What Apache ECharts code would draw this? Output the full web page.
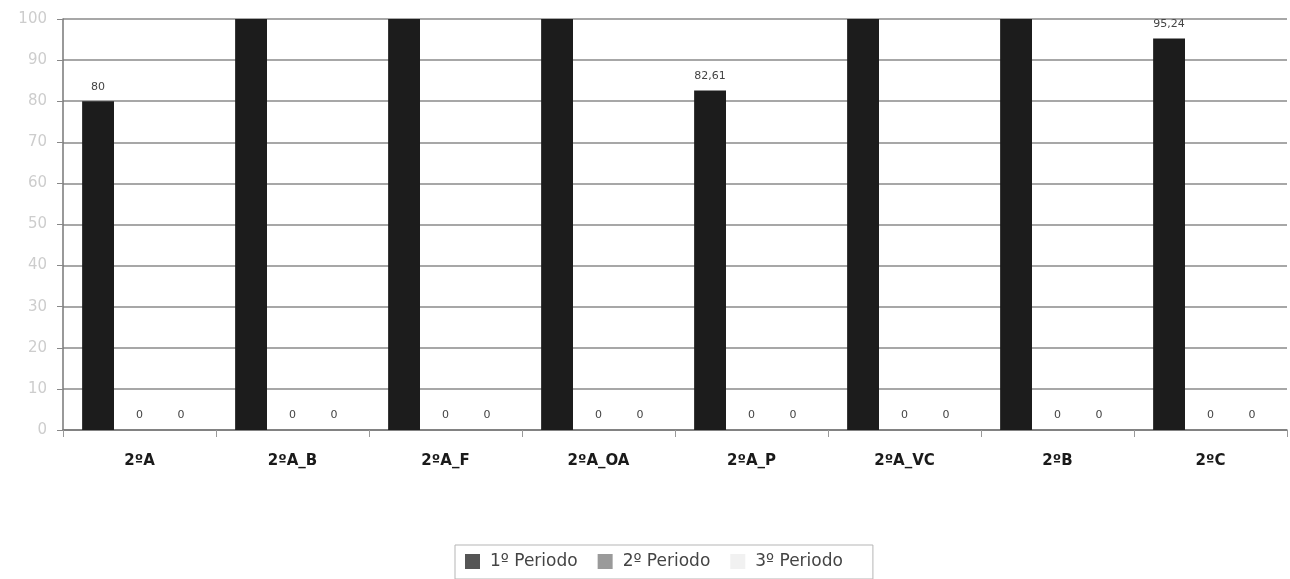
<!DOCTYPE html>
<html>
<head>
<meta charset="utf-8">
<script src="https://cdn.jsdelivr.net/npm/echarts@6/dist/echarts.min.js"></script>
<style>
  html, body { margin: 0; padding: 0; background: #fff; }
  #chart { width: 1290px; height: 579px; }
</style>
</head>
<body>
<div id="chart"></div>
<script>
// Turmas e percentagens por período
const categories = ['2ºA', '2ºA_B', '2ºA_F', '2ºA_OA', '2ºA_P', '2ºA_VC', '2ºB', '2ºC'];
const periodo1 = [80, 100, 100, 100, 82.61, 100, 100, 95.24];
const periodo2 = [0, 0, 0, 0, 0, 0, 0, 0];
const periodo3 = [0, 0, 0, 0, 0, 0, 0, 0];
const seriesNames = ['1º Periodo', '2º Periodo', '3º Periodo'];
const yTicks = { min: 0, max: 100, interval: 10 };

const FONT = 'DejaVu Sans';

// values at the top of the scale have their label pushed outside the plot, so it is left out
function fmt(p) {
  if (p.value >= yTicks.max) return '';
  return String(p.value).replace('.', ',');
}

const labelStyle = {
  show: true,
  position: 'top',
  distance: 9,
  formatter: fmt,
  color: '#444',
  fontFamily: FONT,
  fontSize: 11
};

const legendColors = ['#555555', '#9a9a9a', '#f1f1f1'];

const chart = echarts.init(document.getElementById('chart'));
chart.setOption({
  animation: false,
  backgroundColor: '#fff',
  grid: { left: 63, right: 3, top: 19, bottom: 149, containLabel: false },
  xAxis: {
    type: 'category',
    data: categories,
    axisLine: { lineStyle: { color: '#777', width: 1.5 } },
    axisTick: { show: true, length: 7, lineStyle: { color: '#999' } },
    axisLabel: { color: '#1a1a1a', fontFamily: FONT, fontSize: 15, fontWeight: 'bold', margin: 24 }
  },
  yAxis: {
    type: 'value',
    min: yTicks.min,
    max: yTicks.max,
    interval: yTicks.interval,
    axisLine: { show: true, lineStyle: { color: '#777', width: 1.5 } },
    axisTick: { show: true, length: 6, lineStyle: { color: '#888' } },
    axisLabel: { color: '#cdcdcd', fontFamily: FONT, fontSize: 15, margin: 16 },
    splitLine: { show: true, lineStyle: { color: '#8a8a8a', width: 1.5 } }
  },
  legend: {
    data: seriesNames.map((n, i) => ({ name: n, itemStyle: { color: legendColors[i] } })),
    left: 455,
    top: 545,
    orient: 'horizontal',
    icon: 'rect',
    itemWidth: 15,
    itemHeight: 15,
    itemGap: 20,
    padding: [8, 30, 9, 10],
    borderColor: '#b5b5b5',
    borderWidth: 1,
    textStyle: { color: '#444', fontFamily: FONT, fontSize: 17, padding: [0, 0, 0, 5] }
  },
  series: [
    {
      name: seriesNames[0], type: 'bar', data: periodo1,
      barCategoryGap: '25%', barGap: '30%',
      itemStyle: { color: '#1c1c1c' },
      label: labelStyle
    },
    {
      name: seriesNames[1], type: 'bar', data: periodo2,
      itemStyle: { color: '#8c8c8c' },
      label: labelStyle
    },
    {
      name: seriesNames[2], type: 'bar', data: periodo3,
      itemStyle: { color: '#f2f2f2' },
      label: labelStyle
    }
  ]
});
</script>
</body>
</html>
